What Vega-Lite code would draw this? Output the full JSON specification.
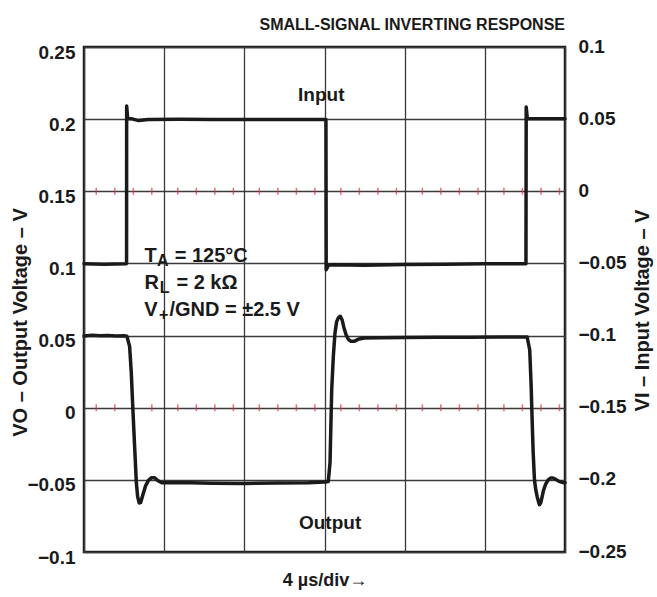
{
  "$schema": "https://vega.github.io/schema/vega-lite/v6.json",
  "width": 481,
  "height": 505,
  "autosize": {"type": "none"},
  "padding": {"left": 84, "top": 47, "right": 92, "bottom": 45},
  "background": "white",
  "config": {
    "font": "Liberation Sans",
    "view": {"stroke": "#1a1a1a", "strokeWidth": 2.5},
    "text": {"font": "Liberation Sans", "fontWeight": "bold", "fontSize": 20, "color": "#1a1a1a", "baseline": "alphabetic", "align": "left"}
  },
  "title": {
    "text": "SMALL-SIGNAL INVERTING RESPONSE",
    "anchor": "end",
    "frame": "group",
    "fontSize": 16,
    "fontWeight": "bold",
    "font": "Liberation Sans",
    "color": "#1a1a1a",
    "baseline": "alphabetic",
    "offset": -9
  },
  "datasets": {
    "output": [
      {"t": 0, "v": 0.0497}, {"t": 0.1, "v": 0.0502}, {"t": 0.2, "v": 0.0498}, {"t": 0.3, "v": 0.0501}, {"t": 0.4, "v": 0.0497}, {"t": 0.5, "v": 0.0499}, {"t": 0.535, "v": 0.0495},
      {"t": 0.569, "v": 0.0425}, {"t": 0.59, "v": 0.0242}, {"t": 0.61, "v": -0.0014}, {"t": 0.635, "v": -0.031}, {"t": 0.653, "v": -0.052}, {"t": 0.669, "v": -0.0616}, {"t": 0.688, "v": -0.066}, {"t": 0.706, "v": -0.0658}, {"t": 0.731, "v": -0.061}, {"t": 0.769, "v": -0.054}, {"t": 0.806, "v": -0.0502}, {"t": 0.844, "v": -0.0485}, {"t": 0.881, "v": -0.0485}, {"t": 0.919, "v": -0.0505}, {"t": 0.969, "v": -0.052},
      {"t": 1.2, "v": -0.0519}, {"t": 1.6, "v": -0.0523}, {"t": 2.0, "v": -0.0525}, {"t": 2.4, "v": -0.0522}, {"t": 2.8, "v": -0.052}, {"t": 3.0, "v": -0.0515}, {"t": 3.047, "v": -0.0512},
      {"t": 3.069, "v": -0.038}, {"t": 3.09, "v": 0.0125}, {"t": 3.11, "v": 0.0355}, {"t": 3.131, "v": 0.052}, {"t": 3.152, "v": 0.0597}, {"t": 3.172, "v": 0.0623}, {"t": 3.197, "v": 0.0634}, {"t": 3.219, "v": 0.061}, {"t": 3.24, "v": 0.056}, {"t": 3.269, "v": 0.0506}, {"t": 3.297, "v": 0.0474}, {"t": 3.331, "v": 0.046}, {"t": 3.369, "v": 0.046}, {"t": 3.419, "v": 0.0474}, {"t": 3.494, "v": 0.0483},
      {"t": 3.7, "v": 0.0485}, {"t": 4.0, "v": 0.0487}, {"t": 4.4, "v": 0.0488}, {"t": 4.8, "v": 0.0489}, {"t": 5.2, "v": 0.049}, {"t": 5.528, "v": 0.049},
      {"t": 5.56, "v": 0.04}, {"t": 5.578, "v": 0.0148}, {"t": 5.59, "v": -0.0083}, {"t": 5.603, "v": -0.031}, {"t": 5.619, "v": -0.0499}, {"t": 5.635, "v": -0.0568}, {"t": 5.653, "v": -0.0616}, {"t": 5.669, "v": -0.0651}, {"t": 5.681, "v": -0.0672}, {"t": 5.698, "v": -0.0658}, {"t": 5.715, "v": -0.0616}, {"t": 5.731, "v": -0.0575}, {"t": 5.756, "v": -0.0533}, {"t": 5.788, "v": -0.0502}, {"t": 5.819, "v": -0.0487}, {"t": 5.85, "v": -0.0487}, {"t": 5.881, "v": -0.0495}, {"t": 5.919, "v": -0.0509}, {"t": 5.956, "v": -0.0516}, {"t": 6.0, "v": -0.052}
    ],
    "input": [
      {"t": 0, "v": -0.0502}, {"t": 0.25, "v": -0.0505}, {"t": 0.525, "v": -0.0502}, {"t": 0.531, "v": -0.05}, {"t": 0.532, "v": 0.0591}, {"t": 0.545, "v": 0.0505}, {"t": 0.6, "v": 0.0502}, {"t": 0.68, "v": 0.049}, {"t": 0.8, "v": 0.0498}, {"t": 1.2, "v": 0.0499}, {"t": 1.6, "v": 0.0497}, {"t": 2.0, "v": 0.0498}, {"t": 2.4, "v": 0.0497}, {"t": 2.8, "v": 0.0498}, {"t": 3.018, "v": 0.0498},
      {"t": 3.021, "v": -0.0544}, {"t": 3.05, "v": -0.0512}, {"t": 3.1, "v": -0.051}, {"t": 3.5, "v": -0.0512}, {"t": 4.0, "v": -0.0508}, {"t": 4.5, "v": -0.0505}, {"t": 5.0, "v": -0.0503}, {"t": 5.513, "v": -0.0502},
      {"t": 5.516, "v": 0.0584}, {"t": 5.53, "v": 0.0503}, {"t": 5.8, "v": 0.0502}, {"t": 6.0, "v": 0.0502}
    ],
    "graticule": [
      {"t": 0.153}, {"t": 0.384}, {"t": 0.615}, {"t": 0.846},
      {"t": 1.17}, {"t": 1.401}, {"t": 1.632}, {"t": 1.863},
      {"t": 2.187}, {"t": 2.418}, {"t": 2.649}, {"t": 2.88},
      {"t": 3.204}, {"t": 3.435}, {"t": 3.666}, {"t": 3.897},
      {"t": 4.221}, {"t": 4.452}, {"t": 4.683}, {"t": 4.914},
      {"t": 5.238}, {"t": 5.469}, {"t": 5.7}, {"t": 5.931}
    ],
    "one": [{}]
  },
  "layer": [
    {
      "layer": [
        {
          "data": {"name": "graticule"},
          "mark": {"type": "tick", "orient": "vertical", "color": "#e0303c", "thickness": 1.5, "size": 7},
          "encoding": {
            "x": {"field": "t", "type": "quantitative", "scale": {"domain": [0, 6], "nice": false, "zero": false}, "axis": {"orient": "bottom", "values": [0, 1, 2, 3, 4, 5, 6], "grid": true, "gridColor": "#3a3a3a", "gridWidth": 1.3, "labels": false, "ticks": false, "domain": false, "title": "4 µs/div→", "titleFontSize": 18, "titleFontWeight": "bold", "titleColor": "#1a1a1a", "titleY": 28, "titleBaseline": "middle"}},
            "y": {"datum": 0.15, "type": "quantitative"}
          }
        },
        {
          "data": {"name": "graticule"},
          "mark": {"type": "tick", "orient": "vertical", "color": "#e0303c", "thickness": 1.5, "size": 7},
          "encoding": {
            "x": {"field": "t", "type": "quantitative"},
            "y": {"datum": 0, "type": "quantitative"}
          }
        },
        {
          "data": {"name": "output"},
          "mark": {"type": "line", "color": "#1a1a1a", "strokeWidth": 3.5, "strokeJoin": "round", "strokeCap": "round"},
          "encoding": {
            "x": {"field": "t", "type": "quantitative"},
            "y": {"field": "v", "type": "quantitative", "scale": {"domain": [-0.1, 0.25], "nice": false, "zero": false},
                  "axis": {"orient": "left", "values": [-0.1, -0.05, 0, 0.05, 0.1, 0.15, 0.2, 0.25], "format": "~g", "grid": true, "gridColor": "#3a3a3a", "gridWidth": 1.3, "ticks": false, "domain": false, "labelFontSize": 19, "labelFontWeight": "bold", "labelColor": "#1a1a1a", "labelPadding": 9, "labelOffset": 5, "labelFont": "Liberation Sans",
                           "title": "VO – Output Voltage – V", "titleFontSize": 20, "titleFontWeight": "bold", "titleColor": "#1a1a1a", "titleAngle": 270, "titleX": -64, "titleY": 275, "titleBaseline": "middle", "titleAlign": "center"}}
          }
        },
        {"data": {"name": "one"}, "mark": {"type": "text", "align": "center", "fontSize": 19}, "encoding": {"x": {"datum": 2.96, "type": "quantitative"}, "y": {"datum": 0.2126, "type": "quantitative"}, "text": {"value": "Input"}}},
        {"data": {"name": "one"}, "mark": {"type": "text", "align": "center", "fontSize": 19}, "encoding": {"x": {"datum": 3.07, "type": "quantitative"}, "y": {"datum": -0.0838, "type": "quantitative"}, "text": {"value": "Output"}}},
        {"data": {"name": "one"}, "mark": {"type": "text"}, "encoding": {"x": {"datum": 0.756, "type": "quantitative"}, "y": {"datum": 0.1011, "type": "quantitative"}, "text": {"value": "T"}}},
        {"data": {"name": "one"}, "mark": {"type": "text", "fontSize": 16}, "encoding": {"x": {"datum": 0.91, "type": "quantitative"}, "y": {"datum": 0.0979, "type": "quantitative"}, "text": {"value": "A"}}},
        {"data": {"name": "one"}, "mark": {"type": "text"}, "encoding": {"x": {"datum": 1.131, "type": "quantitative"}, "y": {"datum": 0.1011, "type": "quantitative"}, "text": {"value": "= 125°C"}}},
        {"data": {"name": "one"}, "mark": {"type": "text"}, "encoding": {"x": {"datum": 0.756, "type": "quantitative"}, "y": {"datum": 0.0824, "type": "quantitative"}, "text": {"value": "R"}}},
        {"data": {"name": "one"}, "mark": {"type": "text", "fontSize": 16}, "encoding": {"x": {"datum": 0.944, "type": "quantitative"}, "y": {"datum": 0.0794, "type": "quantitative"}, "text": {"value": "L"}}},
        {"data": {"name": "one"}, "mark": {"type": "text"}, "encoding": {"x": {"datum": 1.153, "type": "quantitative"}, "y": {"datum": 0.0824, "type": "quantitative"}, "text": {"value": "= 2 kΩ"}}},
        {"data": {"name": "one"}, "mark": {"type": "text"}, "encoding": {"x": {"datum": 0.75, "type": "quantitative"}, "y": {"datum": 0.0639, "type": "quantitative"}, "text": {"value": "V"}}},
        {"data": {"name": "one"}, "mark": {"type": "text", "fontSize": 16}, "encoding": {"x": {"datum": 0.935, "type": "quantitative"}, "y": {"datum": 0.061, "type": "quantitative"}, "text": {"value": "+"}}},
        {"data": {"name": "one"}, "mark": {"type": "text"}, "encoding": {"x": {"datum": 1.065, "type": "quantitative"}, "y": {"datum": 0.0639, "type": "quantitative"}, "text": {"value": "/GND = ±2.5 V"}}}
      ]
    },
    {
      "data": {"name": "input"},
      "mark": {"type": "line", "color": "#1a1a1a", "strokeWidth": 3.5, "strokeJoin": "round", "strokeCap": "round"},
      "encoding": {
        "x": {"field": "t", "type": "quantitative"},
        "y": {"field": "v", "type": "quantitative", "scale": {"domain": [-0.25, 0.1], "nice": false, "zero": false},
              "axis": {"orient": "right", "values": [-0.25, -0.2, -0.15, -0.1, -0.05, 0, 0.05, 0.1], "format": "~g", "grid": false, "ticks": false, "domain": false, "labelFontSize": 19, "labelFontWeight": "bold", "labelColor": "#1a1a1a", "labelPadding": 13, "labelOffset": -1, "labelFont": "Liberation Sans",
                       "title": "VI – Input Voltage – V", "titleFontSize": 20, "titleFontWeight": "bold", "titleColor": "#1a1a1a", "titleAngle": 270, "titleX": 77, "titleY": 263, "titleBaseline": "middle", "titleAlign": "center"}}
      }
    }
  ],
  "resolve": {"scale": {"y": "independent"}, "axis": {"y": "independent"}}
}
